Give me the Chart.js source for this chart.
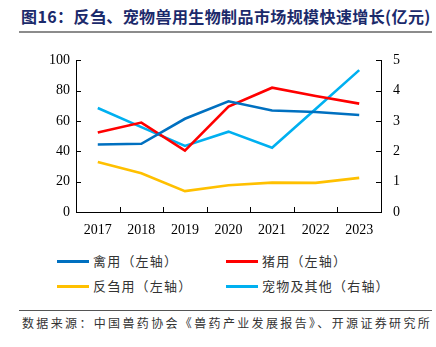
<!DOCTYPE html>
<html>
<head>
<meta charset="utf-8">
<script src="https://cdn.jsdelivr.net/npm/chart.js@4"></script>
<style>
  body { margin: 0; width: 436px; height: 347px; background: #fff; position: relative; overflow: hidden; font-family: "Noto Sans CJK SC", sans-serif; }
  #title { position: absolute; left: 21px; top: 4px; font-size: 16px; font-weight: bold; color: #1b2a6b; letter-spacing: 0.4px; white-space: nowrap; }
  #rule { position: absolute; left: 19px; top: 31px; width: 413px; height: 2px; background: #8c8c8c; }
  #box { position: absolute; left: 0; top: 40px; width: 436px; height: 200px; }
  .lg { position: absolute; font-size: 13px; color: #333; letter-spacing: 1.2px; white-space: nowrap; }
  .lg i { display: inline-block; width: 32px; height: 3px; margin-right: 4px; vertical-align: middle; position: relative; top: -1px; }
  #src { position: absolute; left: 19px; top: 310px; width: 413px; border-top: 1px solid #555; padding-top: 3px; font-size: 12px; color: #333; letter-spacing: 2.35px; white-space: nowrap; }
</style>
</head>
<body>
<div id="title">图16：反刍、宠物兽用生物制品市场规模快速增长(亿元)</div>
<div id="rule"></div>
<div id="box"><canvas id="grafico" width="436" height="200"></canvas></div>
<div class="lg" style="left:57px;top:251px"><i style="background:#0070c0"></i>禽用（左轴）</div>
<div class="lg" style="left:226px;top:251px"><i style="background:#ff0000"></i>猪用（左轴）</div>
<div class="lg" style="left:57px;top:276px"><i style="background:#ffc000"></i>反刍用（左轴）</div>
<div class="lg" style="left:226px;top:276px"><i style="background:#00b0f0"></i>宠物及其他（右轴）</div>
<div id="src"><span style="margin-left:3px">数据来源：中国兽药协会《兽药产业发展报告》、开源证券研究所</span></div>
<script>
// Datos
const anios = ['2017', '2018', '2019', '2020', '2021', '2022', '2023'];
const aves = [44.5, 45, 61.5, 73, 67, 66, 64];          // 禽用 (eje izq.)
const cerdos = [52.5, 59, 40.5, 69.5, 82, 76.5, 71.5];  // 猪用 (eje izq.)
const rumiantes = [33, 25.5, 13.8, 17.6, 19.4, 19.2, 22.5]; // 反刍用 (eje izq.)
const mascotas = [3.43, 2.8, 2.18, 2.65, 2.12, 3.4, 4.68];  // 宠物及其他 (eje der.)

const fuenteEjes = { family: '"Liberation Serif", "Times New Roman", serif', size: 14 };

// Marcas cortas hacia dentro en los tres ejes
const marcasInternas = {
  id: 'marcasInternas',
  afterDraw(chart) {
    const c = chart.ctx, a = chart.chartArea;
    const L = 5;
    c.save();
    c.strokeStyle = '#000';
    c.lineWidth = 1;
    c.beginPath();
    const y = chart.scales.y, y1 = chart.scales.y1, x = chart.scales.x;
    y.ticks.forEach((t, i) => {
      const p = Math.round(y.getPixelForTick(i)) + 0.5;
      c.moveTo(a.left, p); c.lineTo(a.left + L, p);
    });
    y1.ticks.forEach((t, i) => {
      const p = Math.round(y1.getPixelForTick(i)) + 0.5;
      c.moveTo(a.right - L, p); c.lineTo(a.right, p);
    });
    for (let i = 1; i < x.ticks.length; i++) {
      const p = Math.round((x.getPixelForTick(i - 1) + x.getPixelForTick(i)) / 2) + 0.5;
      c.moveTo(p, a.bottom); c.lineTo(p, a.bottom - L);
    }
    c.stroke();
    c.restore();
  }
};

const linea = (label, data, color, eje) => ({
  label, data, borderColor: color, backgroundColor: color, yAxisID: eje,
  borderWidth: 2.6, pointRadius: 0, tension: 0, fill: false
});

new Chart(document.getElementById('grafico'), {
  type: 'line',
  data: {
    labels: anios,
    datasets: [
      linea('禽用（左轴）', aves, '#0070c0', 'y'),
      linea('猪用（左轴）', cerdos, '#ff0000', 'y'),
      linea('反刍用（左轴）', rumiantes, '#ffc000', 'y'),
      linea('宠物及其他（右轴）', mascotas, '#00b0f0', 'y1')
    ]
  },
  options: {
    responsive: false,
    animation: false,
    layout: { padding: { top: 14, left: 0, right: 0, bottom: 0 } },
    plugins: { legend: { display: false }, tooltip: { enabled: false } },
    scales: {
      x: {
        offset: true,
        grid: { drawOnChartArea: false, drawTicks: false, color: '#000' },
        border: { color: '#000', width: 1 },
        ticks: { color: '#000', font: fuenteEjes, padding: 10, maxRotation: 0 },
        afterFit: s => { s.height = 28; }
      },
      y: {
        position: 'left', min: 0, max: 100,
        grid: { drawOnChartArea: false, drawTicks: false },
        border: { color: '#000', width: 1 },
        ticks: { stepSize: 20, color: '#000', font: fuenteEjes, padding: 6 },
        afterFit: s => { s.width = 76; }
      },
      y1: {
        position: 'right', min: 0, max: 5,
        grid: { drawOnChartArea: false, drawTicks: false },
        border: { color: '#000', width: 1 },
        ticks: { stepSize: 1, color: '#000', font: fuenteEjes, padding: 12 },
        afterFit: s => { s.width = 55; }
      }
    }
  },
  plugins: [marcasInternas]
});
</script>
</body>
</html>
